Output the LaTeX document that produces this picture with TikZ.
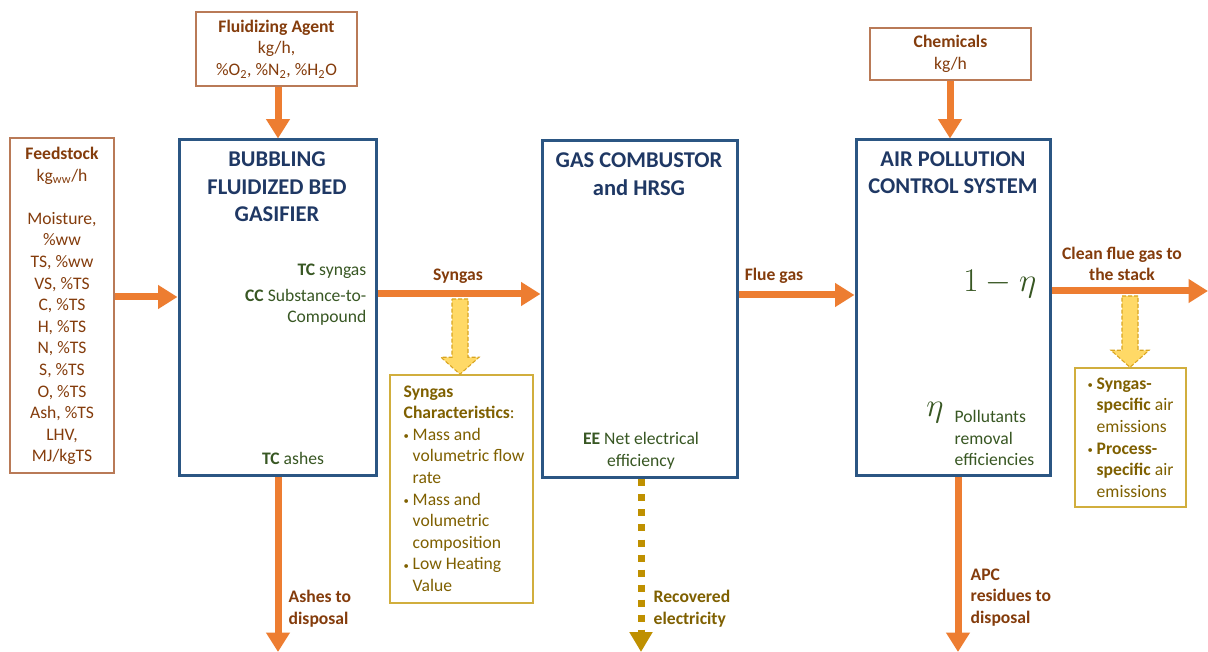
\documentclass[tikz,border=0pt]{standalone}
\usepackage{fontspec}
\setmainfont{Carlito}
\usepackage{amsmath}
\usetikzlibrary{calc, positioning, arrows.meta}
\definecolor{flowOrange}{HTML}{ED7D31}
\definecolor{labelBrown}{HTML}{843C0C}
\definecolor{boxBrown}{HTML}{B97A57}
\definecolor{unitBlue}{HTML}{2B5683}
\definecolor{titleBlue}{HTML}{1F3864}
\definecolor{paramGreen}{HTML}{385723}
\definecolor{infoGold}{HTML}{7F6000}
\definecolor{infoEdge}{HTML}{D1AE3D}
\definecolor{powerGold}{HTML}{BF9000}
\definecolor{hintYellow}{HTML}{FFD966}
\definecolor{hintEdge}{HTML}{D9A520}
\newdimen\pxu \pxu=0.75pt
\newcommand{\bodyfont}{\fontsize{13.2}{16.2}\selectfont}
\newcommand{\headfont}{\fontsize{16.9}{20.6}\selectfont\bfseries}
\newcommand{\bul}{\makebox[9\pxu][l]{\raisebox{0.6pt}{\footnotesize\textbullet}}}
\newcommand{\ind}{\hspace*{9\pxu}}
% block arrow from a free point down to a node anchor
\newcommand{\hintarrow}[2]{%
  \filldraw[hint] let \p1=(#1), \p2=(#2) in
    (\x1-8\pxu,\y1) -- (\x1+8\pxu,\y1) -- (\x1+8\pxu,\y2+17\pxu)
    -- (\x1+19\pxu,\y2+17\pxu) -- (\x1,\y2) -- (\x1-19\pxu,\y2+17\pxu)
    -- (\x1-8\pxu,\y2+17\pxu) -- cycle;}
\tikzset{
  inbox/.style={draw=boxBrown, line width=1.1pt, fill=white, inner sep=0pt},
  unitbox/.style={draw=unitBlue, line width=2.25pt, fill=white, inner sep=0pt},
  infobox/.style={draw=infoEdge, line width=1.1pt, fill=white, inner sep=0pt},
  flow/.style={draw=flowOrange, line width=5.25pt, -{Triangle[width=17pt,length=14.5pt]}},
  power/.style={draw=powerGold, line width=5.25pt, dash pattern=on 5.25pt off 6pt,
    -{Triangle[width=16.5pt,length=15pt]}},
  hint/.style={fill=hintYellow, draw=hintEdge, line width=0.8pt, dash pattern=on 3pt off 1.5pt},
  flowlabel/.style={text=labelBrown, font=\bodyfont\bfseries, align=center},
  param/.style={text=paramGreen, font=\bodyfont},
  unittitle/.style={text=titleBlue, font=\headfont, align=center}
}

\begin{document}
\begin{tikzpicture}[x=0.75pt, y=-0.75pt]
  \useasboundingbox[fill=white] (0,0) rectangle (1208,652);

  % Input boxes
  \node[inbox, minimum width=104\pxu, minimum height=335\pxu] (feed) at (62,305.5) {};
  \node[inbox, minimum width=161\pxu, minimum height=74\pxu] (fluid) at (276.5,49) {};
  \node[inbox, minimum width=161\pxu, minimum height=52\pxu] (chem) at (950.5,54) {};

  \node[text=labelBrown, font=\bodyfont, align=center] (feedtxt) at (62,306) {%
    \textbf{Feedstock}\\kg\textsubscript{ww}/h\\[16.2pt]Moisture,\\\%ww\\TS, \%ww\\VS, \%TS\\
    C, \%TS\\H, \%TS\\N, \%TS\\S, \%TS\\O, \%TS\\Ash, \%TS\\LHV,\\MJ/kgTS};
  \node[text=labelBrown, font=\bodyfont, align=center] (fluidtxt) at (fluid) {%
    \textbf{Fluidizing Agent}\\kg/h,\\\%O\textsubscript{2}, \%N\textsubscript{2}, \%H\textsubscript{2}O};
  \node[text=labelBrown, font=\bodyfont, align=center] (chemtxt) at (chem) {%
    \textbf{Chemicals}\\kg/h};

  % Process units
  \node[unitbox, minimum width=197\pxu, minimum height=336\pxu] (gasif) at (277.5,308) {};
  \node[unitbox, minimum width=195\pxu, minimum height=337\pxu] (comb) at (639.5,309.5) {};
  \node[unitbox, minimum width=194\pxu, minimum height=336\pxu] (apc) at (953,308) {};

  \node[unittitle] (gasiftitle) at (277,187) {BUBBLING\\FLUIDIZED BED\\GASIFIER};
  \node[unittitle] (combtitle) at (639,174) {GAS COMBUSTOR\\and HRSG};
  \node[unittitle] (apctitle) at (953,172.5) {AIR POLLUTION\\CONTROL SYSTEM};

  % Parameters inside the units
  \node[param, anchor=east] (tcsyn) at (371,271) {\textbf{TC} syngas};
  \node[param, anchor=east, align=right] (ccsub) at (371,307.5) {\textbf{CC} Substance-to-\\Compound};
  \node[param] (tcash) at (293,458) {\textbf{TC} ashes};
  \node[param, align=center] (ee) at (641,451) {\textbf{EE} Net electrical\\efficiency};
  \node[text=paramGreen, font=\fontsize{24}{24}\selectfont, anchor=east] (keep) at (1041,284) {$1-\eta$};
  \node[text=paramGreen, font=\fontsize{23}{23}\selectfont] (eta) at (935,413) {$\eta$};
  \node[param, anchor=west, align=left] (removal) at (950,438) {Pollutants\\removal\\efficiencies};

  % Information boxes
  \node[infobox, minimum width=143\pxu, minimum height=228\pxu] (syn) at (461.5,489) {};
  \node[infobox, minimum width=111\pxu, minimum height=139\pxu] (emis) at (1130.5,437.5) {};

  \node[text=infoGold, font=\bodyfont, align=left, anchor=west] (syntxt) at (399,488.5) {%
    \textbf{Syngas}\\\textbf{Characteristics}:\\
    \bul Mass and\\\ind volumetric flow\\\ind rate\\
    \bul Mass and\\\ind volumetric\\\ind composition\\
    \bul Low Heating\\\ind Value};
  \node[text=infoGold, font=\bodyfont, align=left, anchor=west] (emistxt) at (1083,437.5) {%
    \bul\textbf{Syngas-}\\\ind\textbf{specific} air\\\ind emissions\\
    \bul\textbf{Process-}\\\ind\textbf{specific} air\\\ind emissions};

  % Yellow hint arrows
  \coordinate (synhint) at (460,299);
  \coordinate (emishint) at (1130,296);
  \hintarrow{synhint}{syn.north}
  \hintarrow{emishint}{emis.north}

  % Free ends
  \coordinate (stack) at (1208,291);
  \coordinate (ashend) at (278,652);
  \coordinate (elecend) at (641,652);
  \coordinate (resend) at (958,652);

  % Main flows
  \draw[flow] (feed.east |- 0,297) -- (gasif.west |- 0,297);
  \draw[flow] (fluid.south -| 278,0) -- (gasif.north -| 278,0);
  \draw[flow] (gasif.east |- 0,294) -- (comb.west |- 0,294);
  \draw[flow] (comb.east |- 0,295) -- (apc.west |- 0,295);
  \draw[flow] (chem.south -| 950,0) -- (apc.north -| 950,0);
  \draw[flow] (apc.east |- stack) -- (stack);
  \draw[flow] (gasif.south -| ashend) -- (ashend);
  \draw[flow] (apc.south -| resend) -- (resend);
  \draw[power] (comb.south -| elecend) -- (elecend);

  % Flow labels
  \node[flowlabel] (synlbl) at (458,276) {Syngas};
  \node[flowlabel] (fluelbl) at (774,276) {Flue gas};
  \node[flowlabel] (stacklbl) at (1122,264) {Clean flue gas to\\the stack};
  \node[flowlabel, align=left, anchor=west] (ashlbl) at (284,608.5) {Ashes to\\disposal};
  \node[flowlabel, align=left, anchor=west] (reslbl) at (966,597.5) {APC\\residues to\\disposal};
  \node[flowlabel, text=infoGold, align=left, anchor=west] (eleclbl) at (649,608.5) {Recovered\\electricity};
\end{tikzpicture}
\end{document}
